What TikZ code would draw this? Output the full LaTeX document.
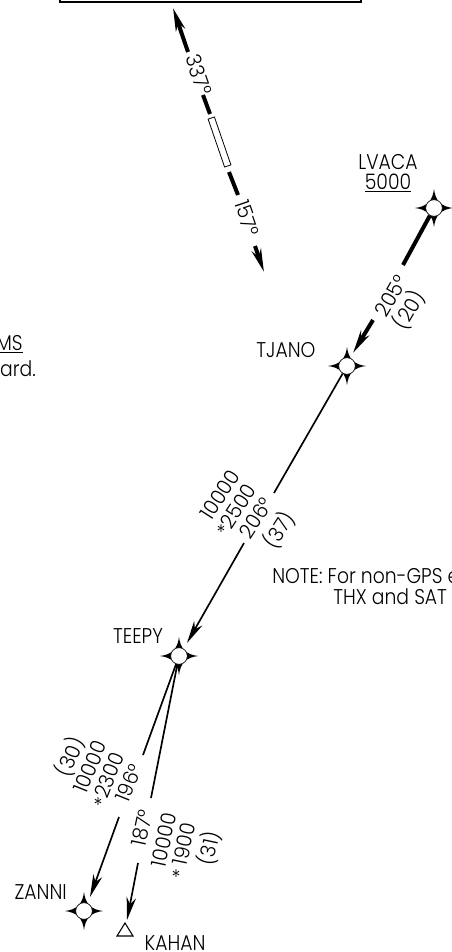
\documentclass[tikz,border=0pt]{standalone}
\usepackage{fontspec}
\setmainfont[FakeStretch=0.88]{Poppins Light}
\newfontfamily\numfont[FakeStretch=0.95]{Poppins Light}
\usetikzlibrary{arrows.meta}
\tikzset{
  x=0.75pt,y=-0.75pt,
  thinleg/.style={line width=1.25pt,line cap=butt},
  thickleg/.style={line width=3pt,line cap=butt},
  tipped/.style={-{Stealth[length=17pt,width=7pt,inset=5pt]}},
  lbl/.style={inner sep=0pt,font=\fontsize{16}{18}\selectfont},
  num/.style={inner sep=0pt,font=\numfont\fontsize{15.5}{18}\selectfont},
  star/.style={inner sep=0pt,font=\numfont\fontsize{15}{16}\selectfont},
  wptc/.style={circle,fill=white,draw=black,line width=0.5pt,minimum size=12.5pt,inner sep=0pt},
  rwy/.style={draw,line width=0.6pt,fill=white,minimum width=38pt,minimum height=5pt,inner sep=0pt},
}
\newcommand{\wpt}[2]{%
  \fill[black,shift={#2}] (0,-19) .. controls (1.5,-7) and (7,-1.5) .. (19,0)
    .. controls (7,1.5) and (1.5,7) .. (0,19)
    .. controls (-1.5,7) and (-7,1.5) .. (-19,0)
    .. controls (-7,-1.5) and (-1.5,-7) .. (0,-19) -- cycle;
  \node[wptc] (#1) at #2 {};}
\begin{document}
\begin{tikzpicture}
\useasboundingbox (0,0) rectangle (452,952);
\clip (0,0) rectangle (452,952);
\fill[white] (0,0) rectangle (452,952);
% top box
\coordinate (boxbl) at (60,2);
\coordinate (boxbr) at (361,2);
\coordinate (boxtr) at (361,-5);
\coordinate (boxtl) at (60,-5);
\draw[line width=1.2pt] (boxtl) -- (boxbl) -- (boxbr) -- (boxtr);
% runway
\node[rwy,rotate=-71] (rwy) at (219.5,142) {};
\coordinate (r1) at (173,8);
\coordinate (r2) at (188,52);
\coordinate (r3) at (203,95);
\coordinate (r4) at (210,114);
\coordinate (r5) at (229,172);
\coordinate (r6) at (238,195);
\coordinate (r7) at (255,246);
\coordinate (r8) at (264,272);
\draw[thickleg,tipped] (r2) -- (r1);
\draw[thickleg] (r3) -- (r4);
\draw[thickleg] (r5) -- (r6);
\draw[thickleg,tipped] (r7) -- (r8);
\node[num,rotate=-71] (t337) at (199,75) {337°};
\node[num,rotate=-71] (t157) at (247,218) {157°};
% waypoints
\wpt{lvaca}{(434,208)}
\wpt{tjano}{(347,366)}
\wpt{teepy}{(179,656)}
\wpt{zanni}{(84,911)}
\coordinate (tk1) at (125,923);
\coordinate (tk2) at (133,936);
\coordinate (tk3) at (117,936);
\draw[line width=0.8pt] (tk1) -- (tk2) -- (tk3) -- cycle;
% labels
\node[lbl] (lvacaL) at (388,162) {LVACA};
\node[lbl] (alt5000) at (388,183) {\underline{5000}};
\node[lbl] (tjanoL) at (286,350) {TJANO};
\node[lbl] (teepyL) at (138,636) {TEEPY};
\node[lbl,anchor=base east] (zanniL) at (67,899) {ZANNI};
\node[lbl,anchor=base] (kahanL) at (175,950) {KAHAN};
\node[lbl,anchor=base east] (msL) at (23,350) {\underline{MS}};
\node[lbl,anchor=base east] (lardL) at (36,376) {lard.};
\node[lbl,anchor=base west] (noteA) at (272,583) {NOTE: For non-GPS e};
\node[lbl,anchor=base west] (noteB) at (333,604) {THX and SAT};
% LVACA leg
\coordinate (a1) at (403,265);
\coordinate (a2) at (373,320);
\coordinate (a3) at (353,353);
\draw[thickleg] (lvaca) -- (a1);
\draw[thickleg,tipped] (a2) -- (a3);
\node[num,rotate=60] (t205) at (391,296) {205°};
\node[num,rotate=60] (t20) at (409,310) {(20)};
% TJANO leg
\coordinate (b1) at (274,493);
\coordinate (b2) at (244,543);
\coordinate (b3) at (187,643);
\draw[thinleg] (tjano) -- (b1);
\draw[thinleg,tipped] (b2) -- (b3);
\node[num,rotate=57] (t10a) at (220,495) {10000};
\node[num,rotate=57] (t25) at (238,506) {2500};
\node[star] (s25) at (221,532) {*};
\node[num,rotate=57] (t206) at (256,518) {206°};
\node[num,rotate=57] (t37) at (279,530) {(37)};
% ZANNI leg
\coordinate (c1) at (143,755);
\coordinate (c2) at (119,817);
\coordinate (c3) at (90,897);
\draw[thinleg] (teepy) -- (c1);
\draw[thinleg,tipped] (c2) -- (c3);
\node[num,rotate=68] (t30) at (70,757) {(30)};
\node[num,rotate=68] (t10b) at (90,767) {10000};
\node[num,rotate=68] (t23) at (109,775) {2300};
\node[star] (s23) at (98,805) {*};
\node[num,rotate=68] (t196) at (129,783) {196°};
% KAHAN leg
\coordinate (d1) at (151,798);
\coordinate (d2) at (138,863);
\coordinate (d3) at (127,920);
\draw[thinleg] (teepy) -- (d1);
\draw[thinleg,tipped] (d2) -- (d3);
\node[num,rotate=78] (t187) at (142,828) {187°};
\node[num,rotate=78] (t10c) at (164,840) {10000};
\node[num,rotate=78] (t19) at (184,844) {1900};
\node[star] (s19) at (176,877) {*};
\node[num,rotate=78] (t31) at (209,848) {(31)};
\end{tikzpicture}
\end{document}
